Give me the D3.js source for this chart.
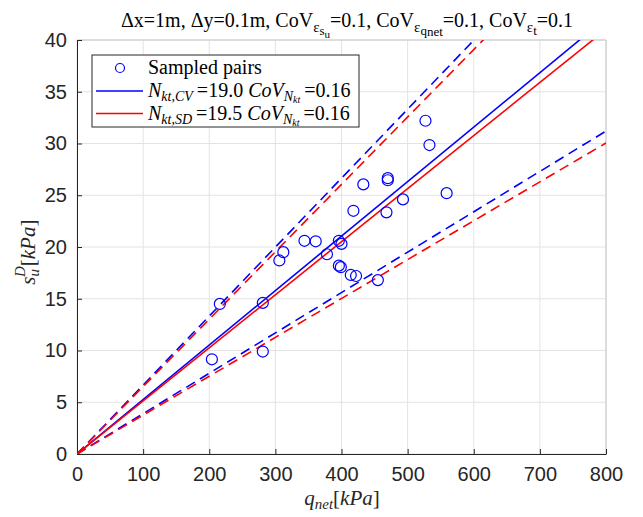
<!DOCTYPE html>
<html>
<head>
<meta charset="utf-8">
<script src="https://cdn.jsdelivr.net/npm/d3@7"></script>
<style>
  body { margin: 0; background: #fff; }
  svg { display: block; }
</style>
</head>
<body>
<svg id="chart" width="643" height="517"></svg>
<script>
// sampled pairs (q_net, s_u^D)
var qNet = [204, 216, 281, 281, 306, 312, 344, 361, 378, 396, 400, 396, 399, 414, 422, 455,
            418, 433, 470, 470, 468, 493, 559, 527, 533];
var suD  = [9.15, 14.5, 14.6, 9.9, 18.7, 19.5, 20.6, 20.55, 19.3, 20.6, 20.3, 18.2, 18.05, 17.3, 17.2, 16.8,
            23.5, 26.05, 26.65, 26.45, 23.35, 24.6, 25.2, 32.2, 29.85];

// fitted N_kt lines: s_u = q / N ; dashed bounds given as s_u value at q = 800
var nktNames = ['CV', 'SD'];
var nktValues = [19.0, 19.5];
var nktColors = ['#0000ff', '#ff0000'];
var upperAt800 = [53.3, 52.1];
var lowerAt800 = [31.2, 30.05];

var xTicks = [0, 100, 200, 300, 400, 500, 600, 700, 800];
var yTicks = [0, 5, 10, 15, 20, 25, 30, 35, 40];

var svg = d3.select('#chart');
var margin = {left: 77, right: 37, top: 40, bottom: 63};
var W = 643, H = 517;

var x = d3.scaleLinear().domain([0, 800]).range([margin.left, W - margin.right]);
var y = d3.scaleLinear().domain([0, 40]).range([H - margin.bottom, margin.top]);

svg.append('defs').append('clipPath').attr('id', 'clip')
  .append('rect')
  .attr('x', x(0)).attr('y', y(40))
  .attr('width', x(800) - x(0)).attr('height', y(0) - y(40));

// grid
var grid = svg.append('g');
grid.selectAll('.gx').data(xTicks).enter().append('line')
  .attr('x1', d => x(d)).attr('x2', d => x(d))
  .attr('y1', y(0)).attr('y2', y(40))
  .attr('stroke', '#e3e3e3').attr('stroke-width', 1);
grid.selectAll('.gy').data(yTicks).enter().append('line')
  .attr('y1', d => y(d)).attr('y2', d => y(d))
  .attr('x1', x(0)).attr('x2', x(800))
  .attr('stroke', '#e3e3e3').attr('stroke-width', 1);

// box top / right
svg.append('line').attr('x1', x(0)).attr('x2', x(800)).attr('y1', y(40)).attr('y2', y(40))
  .attr('stroke', '#c8c8c8');
svg.append('line').attr('x1', x(800)).attr('x2', x(800)).attr('y1', y(0)).attr('y2', y(40))
  .attr('stroke', '#c8c8c8');

// axes
var xAxis = svg.append('g')
  .attr('transform', 'translate(0,' + y(0) + ')')
  .call(d3.axisBottom(x).tickValues(xTicks).tickSizeInner(-5).tickSizeOuter(0).tickPadding(13));
var yAxis = svg.append('g')
  .attr('transform', 'translate(' + x(0) + ',0)')
  .call(d3.axisLeft(y).tickValues(yTicks).tickSizeInner(-5).tickSizeOuter(0).tickPadding(10));
[xAxis, yAxis].forEach(function(a) {
  a.select('.domain').attr('stroke', '#262626').attr('stroke-width', 1);
  a.selectAll('.tick line').attr('stroke', '#262626');
  a.selectAll('.tick text').attr('fill', '#262626')
    .style('font-family', 'Liberation Sans, Arial, sans-serif').style('font-size', '20px');
});

// lines
var plot = svg.append('g').attr('clip-path', 'url(#clip)');
nktValues.forEach(function(n, i) {
  var c = nktColors[i];
  plot.append('line')
    .attr('x1', x(0)).attr('y1', y(0)).attr('x2', x(800)).attr('y2', y(800 / n))
    .attr('stroke', c).attr('stroke-width', 1.6);
  [upperAt800[i], lowerAt800[i]].forEach(function(v) {
    plot.append('line')
      .attr('x1', x(0)).attr('y1', y(0)).attr('x2', x(800)).attr('y2', y(v))
      .attr('stroke', c).attr('stroke-width', 1.6).attr('stroke-dasharray', '10,6');
  });
});

// points
plot.selectAll('circle.pt').data(qNet).enter().append('circle')
  .attr('class', 'pt')
  .attr('cx', d => x(d)).attr('cy', (d, i) => y(suD[i]))
  .attr('r', 5.5).attr('fill', 'none').attr('stroke', '#0000ff').attr('stroke-width', 1.2);

var serif = 'Liberation Serif, Times New Roman, serif';

// title
var title = svg.append('text').attr('x', 347).attr('y', 27)
  .style('font-family', serif).style('font-size', '20px').attr('text-anchor', 'middle').attr('fill', '#000');
function sub(t, txt, dy, size) { return t.append('tspan').attr('dy', dy).style('font-size', size).text(txt); }
title.append('tspan').text('\u0394x=1m, \u0394y=0.1m, CoV');
sub(title, '\u03b5', 5, '15px'); sub(title, 's', 3, '13px'); sub(title, 'u', 3, '11px');
sub(title, '=0.1, CoV', -11, '20px');
sub(title, '\u03b5', 5, '15px'); sub(title, 'q', 3, '13px'); sub(title, 'net', 1, '13px');
sub(title, '=0.1, CoV', -9, '20px');
sub(title, '\u03b5', 5, '15px'); sub(title, 't', 3, '13px');
sub(title, '=0.1', -8, '20px');

// axis labels
var xl = svg.append('text').attr('x', 342).attr('y', 505).attr('text-anchor', 'middle')
  .style('font-family', serif).style('font-size', '21px').attr('fill', '#262626');
xl.append('tspan').style('font-style', 'italic').text('q');
xl.append('tspan').style('font-style', 'italic').style('font-size', '15px').attr('dy', 4).text('net');
xl.append('tspan').attr('dy', -4).text('[');
xl.append('tspan').style('font-style', 'italic').text('kPa');
xl.append('tspan').text(']');

var yl = svg.append('text').attr('transform', 'translate(35,' + y(19.5) + ') rotate(-90)')
  .attr('text-anchor', 'middle')
  .style('font-family', serif).style('font-size', '21px').attr('fill', '#262626');
yl.append('tspan').style('font-style', 'italic').text('s');
yl.append('tspan').style('font-style', 'italic').style('font-size', '15px').attr('dy', 4).text('u');
yl.append('tspan').style('font-style', 'italic').style('font-size', '15px').attr('dx', -8).attr('dy', -14).text('D');
yl.append('tspan').attr('dy', 10).text('[');
yl.append('tspan').style('font-style', 'italic').text('kPa');
yl.append('tspan').text(']');

// legend
var lg = svg.append('g');
lg.append('rect').attr('x', 92).attr('y', 55).attr('width', 267).attr('height', 72)
  .attr('fill', '#fff').attr('stroke', '#262626').attr('stroke-width', 1);
lg.append('circle').attr('cx', 120).attr('cy', 68).attr('r', 4.5)
  .attr('fill', 'none').attr('stroke', '#0000ff').attr('stroke-width', 1.2);
lg.append('text').attr('x', 148).attr('y', 74).style('font-family', serif).style('font-size', '20px')
  .attr('fill', '#000').text('Sampled pairs');
nktValues.forEach(function(n, i) {
  var yy = 91 + i * 22.5;
  lg.append('line').attr('x1', 96).attr('x2', 143).attr('y1', yy).attr('y2', yy)
    .attr('stroke', nktColors[i]).attr('stroke-width', 1.6);
  var t = lg.append('text').attr('x', 148).attr('y', yy + 6)
    .style('font-family', serif).style('font-size', '20px').attr('fill', '#000');
  t.append('tspan').style('font-style', 'italic').text('N');
  t.append('tspan').style('font-style', 'italic').style('font-size', '14px').attr('dy', 4).text('kt,' + nktNames[i]);
  t.append('tspan').attr('dy', -4).text('\u2009=' + n.toFixed(1) + ' ');
  t.append('tspan').style('font-style', 'italic').text('CoV');
  t.append('tspan').style('font-style', 'italic').style('font-size', '14px').attr('dy', 4).text('N');
  t.append('tspan').style('font-style', 'italic').style('font-size', '10px').attr('dy', 2).text('kt');
  t.append('tspan').attr('dy', -6).text('\u2009=0.16');
});
</script>
</body>
</html>
